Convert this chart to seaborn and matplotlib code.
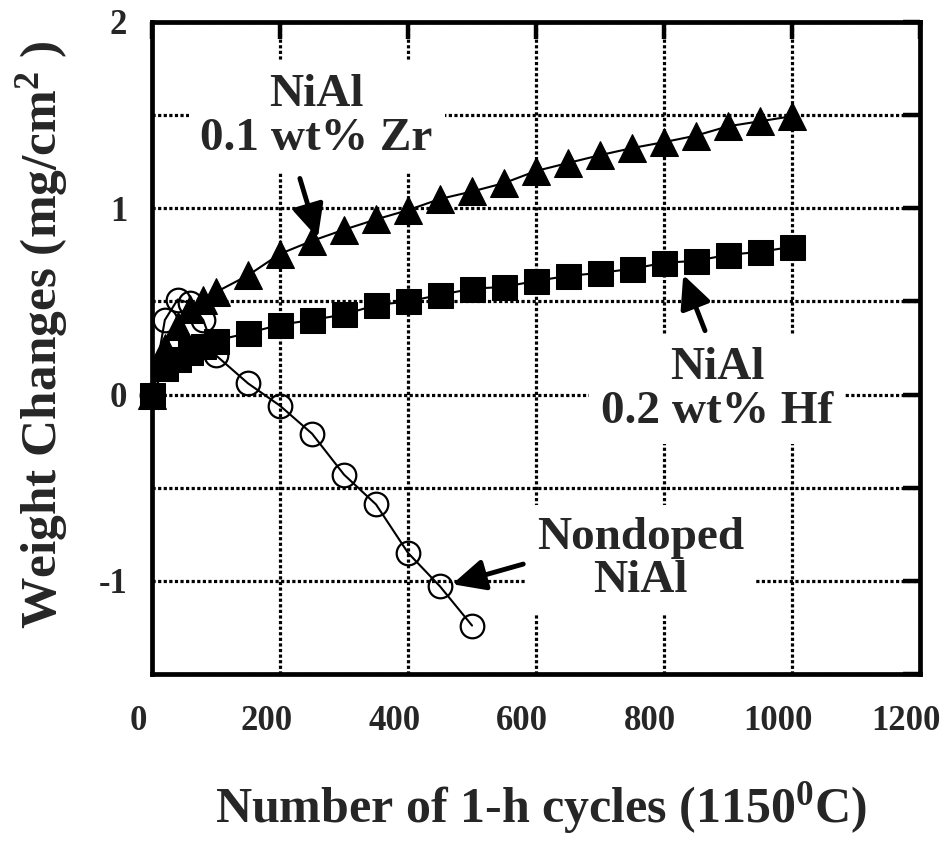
import matplotlib
matplotlib.use("Agg")
import numpy as np
import pandas as pd
import seaborn as sns
import matplotlib.pyplot as plt
from matplotlib.ticker import MultipleLocator, FuncFormatter
from matplotlib.transforms import ScaledTranslation

# ---------------- data ----------------
cycles_nd = [0, 20, 40, 60, 80, 100, 150, 200, 250, 300, 350, 400, 450, 500]
wt_nd = [0, 0.40, 0.51, 0.49, 0.40, 0.21, 0.06, -0.06, -0.21, -0.43, -0.59, -0.85, -1.03, -1.24]

cycles_zr = [0, 20, 40, 60, 80, 100, 150, 200, 250, 300, 350, 400, 450, 500,
             550, 600, 650, 700, 750, 800, 850, 900, 950, 1000]
wt_zr = [0, 0.25, 0.37, 0.46, 0.51, 0.55, 0.64, 0.755, 0.825, 0.885, 0.94, 0.99, 1.05, 1.09,
         1.135, 1.20, 1.243, 1.285, 1.323, 1.355, 1.39, 1.44, 1.467, 1.494]

cycles_hf = [0, 20, 40, 60, 80, 100, 150, 200, 250, 300, 350, 400, 450, 500,
             550, 600, 650, 700, 750, 800, 850, 900, 950, 1000]
wt_hf = [0, 0.14, 0.19, 0.23, 0.26, 0.29, 0.33, 0.375, 0.40, 0.43, 0.48, 0.50, 0.535, 0.568,
         0.578, 0.61, 0.637, 0.653, 0.675, 0.707, 0.718, 0.75, 0.766, 0.793]

x_ticks = [0, 200, 400, 600, 800, 1000, 1200]
x_label = "Number of 1-h cycles (1150$^{0}$C)"
y_label = "Weight Changes (mg/cm$^{2}$ )"

label_zr = "NiAl\n0.1 wt% Zr"
label_hf = "NiAl\n0.2 wt% Hf"
label_nd = "Nondoped\nNiAl"

# ---------------- style ----------------
sns.set_theme(style="white")
plt.rcParams["font.family"] = ["Liberation Serif", "DejaVu Serif"]
plt.rcParams["font.weight"] = "bold"
plt.rcParams["mathtext.fontset"] = "custom"
plt.rcParams["mathtext.rm"] = "Liberation Serif:bold"
plt.rcParams["mathtext.bf"] = "Liberation Serif:bold"
plt.rcParams["mathtext.it"] = "Liberation Serif:bold:italic"
plt.rcParams["mathtext.default"] = "rm"

fig = plt.figure(figsize=(9.42, 8.48), dpi=100)
ax = fig.add_axes([0.1614, 0.2052, 0.8153, 0.7689])
ax.set_axisbelow(True)

# draw order: circles, triangles, squares (squares on top)
sns.lineplot(x=cycles_nd, y=wt_nd, ax=ax, color="black", lw=1.5, marker="o",
             markersize=17, markerfacecolor="none", markeredgecolor="black",
             markeredgewidth=1.6, zorder=3, clip_on=False)
sns.lineplot(x=cycles_zr, y=wt_zr, ax=ax, color="black", lw=1.5, marker="^",
             markersize=20, markerfacecolor="black", markeredgecolor="black",
             zorder=4, clip_on=False)
sns.lineplot(x=cycles_hf, y=wt_hf, ax=ax, color="black", lw=1.5, marker="s",
             markersize=18, markerfacecolor="black", markeredgecolor="black",
             zorder=5, clip_on=False)

ax.set_xlim(0, 1200)
ax.set_ylim(-1.5, 2)
ax.set_xticks(x_ticks)
ax.set_xticklabels([str(v) for v in x_ticks])
ax.yaxis.set_major_locator(MultipleLocator(0.5))
ax.yaxis.set_major_formatter(FuncFormatter(
    lambda v, p: str(int(round(v))) if abs(v - round(v)) < 1e-6 else ""))

ax.grid(True, which="major", color="black", linestyle=(0, (1.0, 0.75)), linewidth=2.3)

for s in ax.spines.values():
    s.set_visible(True)
    s.set_color("black")
    s.set_linewidth(3.4)

ax.tick_params(axis="both", which="major", direction="in", length=12, width=3.2,
               color="black", top=True, right=True, labelsize=25)
ax.tick_params(axis="x", pad=22)
ax.tick_params(axis="y", pad=18)
for lab in ax.get_xticklabels():
    lab.set_fontweight("bold")
    lab.set_transform(lab.get_transform() + ScaledTranslation(-10 / 72, 0, fig.dpi_scale_trans))
for lab in ax.get_yticklabels():
    lab.set_fontweight("bold")

ax.set_xlabel(x_label, fontsize=36, fontweight="bold")
ax.set_ylabel(y_label, fontsize=37, fontweight="bold")
ax.xaxis.set_label_coords(0.506, -0.205)
ax.yaxis.set_label_coords(-0.143, 0.52)
ax.xaxis.label.set_va("center")
ax.yaxis.label.set_va("center")

# labels with white boxes that interrupt the grid
box = dict(boxstyle="square,pad=0.25", facecolor="white", edgecolor="none")
tkw = dict(fontsize=34, fontweight="bold", ha="center", va="center",
           multialignment="center", linespacing=1.05, bbox=box, zorder=6)
ax.text(257, 1.49, label_zr, **tkw)
ax.text(883, 0.025, label_hf, **tkw)
ax.text(763, -0.885, label_nd, **tkw)

arw = dict(arrowstyle="-|>,head_length=0.8,head_width=0.38", color="black",
           lw=3.5, mutation_scale=25, shrinkA=0, shrinkB=0)
ax.annotate("", xy=(259, 0.84), xytext=(231, 1.16), arrowprops=arw, zorder=7)
ax.annotate("", xy=(830, 0.643), xytext=(864, 0.343), arrowprops=arw, zorder=7)
ax.annotate("", xy=(469, -1.018), xytext=(580, -0.91), arrowprops=arw, zorder=7)

fig.savefig("out.png", dpi=100)
